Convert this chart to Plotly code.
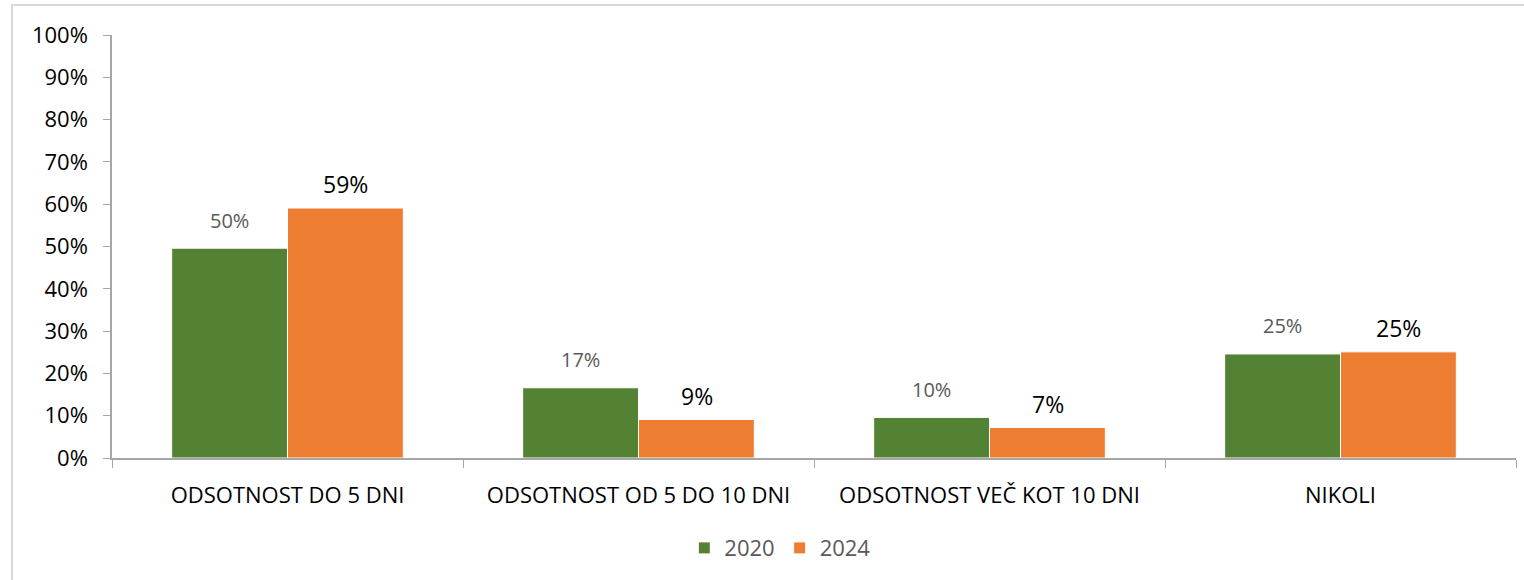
import plotly.graph_objects as go

categories = ["ODSOTNOST DO 5 DNI", "ODSOTNOST OD 5 DO 10 DNI", "ODSOTNOST VEČ KOT 10 DNI", "NIKOLI"]
years = ["2020", "2024"]
values_2020 = [0.496, 0.166, 0.096, 0.246]
values_2024 = [0.591, 0.091, 0.072, 0.251]
labels_2020 = ["50%", "17%", "10%", "25%"]
labels_2024 = ["59%", "9%", "7%", "25%"]

GREEN = "#548235"
ORANGE = "#ED7D31"
FONT = "Open Sans"

fig = go.Figure()
fig.add_trace(go.Bar(name=years[0], x=categories, y=values_2020,
                     marker=dict(color=GREEN, line=dict(color="white", width=1))))
fig.add_trace(go.Bar(name=years[1], x=categories, y=values_2024,
                     marker=dict(color=ORANGE, line=dict(color="white", width=1))))

annotations = []
for c, v, t in zip(categories, values_2020, labels_2020):
    annotations.append(dict(x=c, y=v, text=t, xref="x", yref="y", showarrow=False,
                            xshift=-58, yshift=28, yanchor="middle",
                            font=dict(family=FONT, size=20, color="#595959")))
for c, v, t in zip(categories, values_2024, labels_2024):
    annotations.append(dict(x=c, y=v, text=t, xref="x", yref="y", showarrow=False,
                            xshift=58, yshift=24, yanchor="middle",
                            font=dict(family=FONT, size=23, color="#000000")))

fig.update_layout(
    width=1524, height=580,
    margin=dict(l=112, r=8, t=35, b=122),
    paper_bgcolor="white", plot_bgcolor="white",
    barmode="group", bargap=0.34, bargroupgap=0,
    font=dict(family=FONT, color="#000000"),
    annotations=annotations,
    legend=dict(orientation="h", x=0.476, xanchor="center", y=-0.213, yanchor="middle",
                font=dict(family=FONT, size=22, color="#595959"), itemwidth=30,
                traceorder="normal"),
    shapes=[dict(type="rect", xref="paper", yref="paper", x0=-0.0712, x1=1.02,
                 y0=-0.35, y1=1.071, line=dict(color="#D9D9D9", width=2), layer="below")],
)
fig.update_yaxes(range=[0, 1], dtick=0.1, tickformat=".0%", showgrid=False,
                 showline=True, linecolor="#A6A6A6", linewidth=1.5,
                 ticks="outside", ticklen=7, tickcolor="#A6A6A6",
                 ticklabelstandoff=11, tickfont=dict(family=FONT, size=22, color="#000000"),
                 zeroline=False)
fig.update_xaxes(showline=True, linecolor="#A6A6A6", linewidth=1.5,
                 ticks="outside", ticklen=8, tickcolor="#A6A6A6", tickson="boundaries",
                 ticklabelstandoff=17, tickfont=dict(family=FONT, size=22, color="#000000"))

fig.write_html("out.html", config={"displayModeBar": False},
               post_script="document.body.style.margin='0';document.body.style.overflow='hidden';")
